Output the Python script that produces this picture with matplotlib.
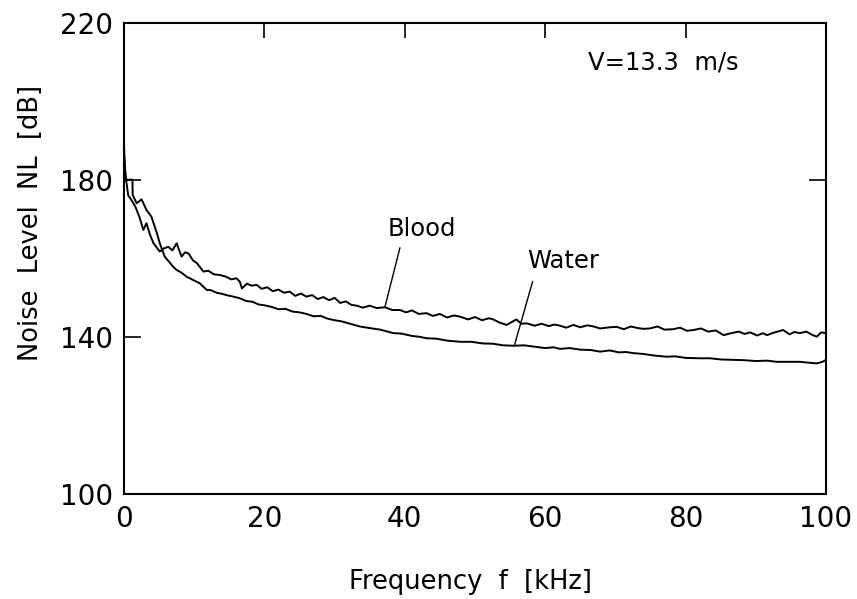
import matplotlib
matplotlib.use("Agg")
import matplotlib.pyplot as plt

# Data
blood_f = [0.0, 0.15, 0.3, 0.6, 1.0, 1.6, 2.2, 2.75, 3.2, 3.7, 4.2, 5.1, 5.7, 6.3, 6.9, 7.5,
           8.2, 8.7, 9.2, 9.8, 10.4, 11.3, 12.0, 12.8, 13.7, 14.5, 15.3, 16.0, 16.5, 16.8,
           17.5, 18.2, 18.9, 19.6, 20.4, 21.2, 22.0, 22.8, 23.6, 24.4, 25.2, 26.0, 26.8,
           27.6, 28.4, 29.2, 30.0, 30.8, 31.6, 32.4, 33.2, 34.0, 35.0, 36.0, 37.2, 38.2,
           39.3, 40.2, 41.0, 42.0, 43.1, 44.0, 45.0, 46.0, 47.0, 47.9, 49.0, 50.0, 51.0,
           52.0, 52.6, 53.5, 54.5, 55.9, 56.6, 57.4, 58.5, 59.5, 60.5, 61.3, 62.1, 63.0,
           64.0, 65.0, 66.0, 66.9, 67.8, 69.2, 70.2, 71.2, 72.2, 73.2, 74.0, 74.9, 76.0,
           77.0, 78.2, 79.2, 80.2, 81.1, 82.2, 83.2, 84.3, 85.4, 86.5, 87.6, 88.4, 89.2,
           90.2, 91.0, 91.6, 92.5, 93.9, 94.8, 95.5, 96.3, 97.2, 98.0, 98.7, 99.3, 100.0]
blood_nl = [186.0, 183.0, 180.0, 176.0, 175.0, 173.2, 170.5, 167.2, 168.9, 166.0, 163.8,
            161.7, 162.5, 162.9, 162.0, 163.8, 160.4, 161.5, 161.2, 159.5, 158.7, 156.6,
            156.8, 155.9, 155.7, 155.3, 154.6, 154.9, 154.0, 152.3, 153.5, 153.0, 153.2,
            152.2, 152.6, 151.6, 152.0, 151.2, 151.5, 150.4, 151.0, 150.2, 150.6, 149.6,
            150.1, 149.3, 149.9, 148.6, 149.0, 148.1, 147.9, 147.4, 147.9, 147.3, 147.5,
            146.8, 146.8, 146.2, 146.7, 145.8, 146.0, 145.3, 145.8, 144.9, 145.4, 145.1,
            144.4, 145.0, 144.2, 144.7, 144.4, 143.6, 143.0, 144.4, 143.3, 143.4, 142.8,
            143.3, 142.7, 143.1, 142.8, 142.3, 143.0, 142.4, 142.9, 142.6, 142.1, 142.4,
            142.5, 141.9, 142.6, 142.2, 142.0, 142.1, 142.6, 141.8, 141.9, 142.3, 141.5,
            141.7, 142.1, 141.3, 141.6, 140.4, 140.9, 141.3, 140.7, 141.1, 140.3, 140.9,
            140.4, 141.0, 141.7, 140.6, 141.2, 140.9, 141.3, 140.5, 140.0, 141.1, 140.9]

water_f = [0.0, 0.1, 0.2, 1.2, 1.24, 1.8, 2.5, 3.2, 3.9, 4.7, 5.1, 5.8, 6.6, 7.0, 7.5, 8.2,
           8.9, 9.9, 10.8, 11.8, 12.3, 13.2, 14.0, 14.8, 15.6, 16.5, 17.4, 18.3, 19.2, 20.0,
           21.0, 22.0, 23.0, 24.0, 25.0, 26.0, 27.0, 28.0, 29.0, 30.0, 31.0, 32.0, 33.6,
           35.0, 36.5, 38.4, 39.5, 41.0, 42.0, 43.1, 44.5, 46.0, 47.9, 49.5, 51.0, 52.6,
           54.0, 55.5, 57.0, 58.3, 60.0, 61.2, 62.1, 63.5, 65.0, 66.5, 67.8, 69.2, 70.5,
           71.5, 72.6, 74.0, 75.5, 77.3, 78.5, 80.0, 82.1, 83.5, 85.0, 86.8, 88.5, 90.0,
           91.6, 93.0, 94.5, 96.3, 98.0, 98.7, 99.5, 100.0]
water_nl = [189.0, 184.0, 180.0, 180.0, 176.1, 174.0, 175.0, 172.3, 170.6, 166.3, 163.8,
            160.4, 158.7, 157.8, 157.0, 156.3, 155.3, 154.4, 153.6, 151.9, 151.9, 151.2,
            150.9, 150.5, 150.2, 149.8, 149.1, 148.9, 148.2, 148.0, 147.6, 147.0, 147.1,
            146.4, 146.2, 145.8, 145.2, 145.3, 144.6, 144.2, 143.9, 143.4, 142.6, 142.2,
            141.8, 140.9, 140.8, 140.2, 140.0, 139.6, 139.5, 139.0, 138.7, 138.7, 138.3,
            138.2, 137.8, 137.7, 137.8, 137.5, 137.1, 137.3, 136.9, 137.1, 136.7, 136.6,
            136.2, 136.5, 136.0, 136.1, 135.8, 135.6, 135.2, 134.9, 135.0, 134.6, 134.5,
            134.5, 134.2, 134.1, 134.0, 133.8, 133.9, 133.6, 133.6, 133.6, 133.3, 133.2,
            133.6, 134.1]

x_ticks = [0, 20, 40, 60, 80, 100]
y_ticks = [100, 140, 180, 220]

plt.rcParams["font.family"] = ["DejaVu Sans"]

fig = plt.figure(figsize=(8.57, 5.99), dpi=100)
ax = fig.add_axes([124 / 857, 1 - 493.7 / 599, 702 / 857, 471 / 599])

ax.plot(blood_f, blood_nl, color="black", lw=1.4)
ax.plot(water_f, water_nl, color="black", lw=1.4)

ax.set_xlim(0, 100)
ax.set_ylim(100, 220)
ax.set_xticks(x_ticks)
ax.set_yticks(y_ticks)
ax.tick_params(axis="x", direction="in", bottom=False, top=True, length=11, width=1.2,
               labelsize=20, pad=8)
ax.tick_params(axis="y", direction="in", left=True, right=True, length=12, width=1.2,
               labelsize=20, pad=8)
for t, v in zip(ax.xaxis.get_major_ticks(), x_ticks):
    t.tick2line.set_visible(v in (20, 40, 60, 80))
for t, v in zip(ax.yaxis.get_major_ticks(), y_ticks):
    t.tick1line.set_visible(v in (140, 180))
    t.tick2line.set_visible(v == 180)
for s in ax.spines.values():
    s.set_linewidth(1.5)

# labels
fig.text(31 / 857, 1 - 223 / 599, "Noise  Level  NL  [dB]", rotation=90,
         ha="center", va="center", fontsize=18.5)
fig.text(470 / 857, 1 - 582 / 599, "Frequency  f  [kHz]", ha="center", va="center",
         fontsize=18.5)

ax.text(66.1, 209.9, "V=13.3  m/s", ha="left", va="center", fontsize=17.5)
ax.text(42.4, 167.4, "Blood", ha="center", va="center", fontsize=17.5)
ax.text(62.5, 159.3, "Water", ha="center", va="center", fontsize=17.5)
ax.plot([39.3, 37.2], [162.6, 147.8], color="black", lw=1.0)
ax.plot([58.2, 55.6], [154.0, 137.7], color="black", lw=1.0)

fig.savefig("out.png", dpi=100)
